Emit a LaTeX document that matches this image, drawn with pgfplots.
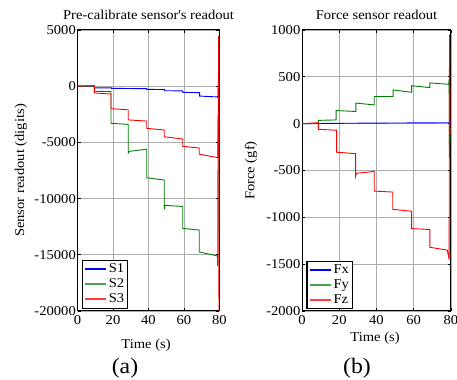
\documentclass[border=0pt]{standalone}
\usepackage{pgfplots}
\pgfplotsset{compat=1.18}
\usepackage{fontspec}
\setmainfont[FakeStretch=1.08]{Liberation Serif}
\definecolor{pblue}{RGB}{0,0,255}
\definecolor{pgreen}{RGB}{0,128,0}
\definecolor{pred}{RGB}{255,0,0}
\definecolor{lgreen}{RGB}{70,165,70}
\definecolor{lred}{RGB}{255,60,60}
\pgfplotsset{
  myax/.style={
    scale only axis,
    height=281bp,
    xmin=0, xmax=80,
    xtick={0,20,40,60,80},
    grid=major,
    grid style={gray!65, line width=0.7bp},
    axis line style={line width=1bp},
    tick align=inside,
    major tick length=3bp,
    tick style={black, line width=0.8bp},
    ticklabel style={font=\fontsize{13.5bp}{15bp}\selectfont},
    yticklabel style={inner xsep=1.5bp},
    xticklabel style={inner ysep=4bp},
    scaled y ticks=false,
    /pgf/number format/.cd, 1000 sep={}, assume math mode=true,
    /pgfplots/.cd,
    legend style={font=\fontsize{13.5bp}{15bp}\selectfont, draw=black, very thick,
      inner sep=1.5bp, row sep=0bp, legend cell align=left},
    every axis plot/.append style={line width=0.9bp},
  },
  limg/.style={legend image code/.code={\draw[#1, line width=2bp] (0bp,0bp) -- (21bp,0bp);}},
}
\begin{document}
\fontsize{13.5bp}{16bp}\selectfont
\begin{tikzpicture}
\path[use as bounding box] (0bp,0bp) rectangle (457bp,380bp);
% ---------- (a) ----------
\begin{axis}[myax, at={(77.5bp,69bp)}, anchor=south west, width=142bp,
  ymin=-20000, ymax=5000, ytick={-20000,-15000,-10000,-5000,0,5000},
  legend style={at={(rel axis cs:0.03,0.008)}, anchor=south west}]
\addlegendimage{limg=pblue}
\addlegendentry{S1}
\addlegendimage{limg=lgreen}
\addlegendentry{S2}
\addlegendimage{limg=lred}
\addlegendentry{S3}
\addplot[pblue, forget plot] coordinates {
(0,0) (9.5,0) (9.5,-150) (19.2,-150) (19.2,-190) (39,-220) (39,-280) (49,-300)
(49,-400) (59.3,-420) (59.3,-550) (68.8,-570) (68.8,-880) (78.5,-950) (79.1,-1000)
(79.3,0) (80,0)};
\addplot[pgreen, forget plot] coordinates {
(0,0) (9.5,0) (9.5,-450) (18.9,-480) (18.9,-3300) (28.6,-3400) (28.6,-5950)
(29.2,-5800) (39,-5600) (39,-8150) (48.9,-8350) (48.9,-10950) (49.3,-10600)
(59.3,-10700) (59.3,-12650) (68.6,-12800) (68.6,-14750) (78.8,-15100) (79,-16000)
(79.2,-2600) (79.6,-2600)};
\addplot[pred, forget plot] coordinates {
(0,0) (9.5,50) (9.5,-600) (18.9,-700) (18.9,-2000) (28.6,-2100) (28.6,-3000)
(39,-3100) (39,-3750) (48.9,-3900) (48.9,-4500) (59.3,-4700) (59.3,-5350)
(68.6,-5500) (68.6,-6050) (79,-6350) (79.3,-2700) (79.5,4500) (79.7,-20000)
(80,-20000)};
\end{axis}
% ---------- (b) ----------
\begin{axis}[myax, at={(302bp,69bp)}, anchor=south west, width=149bp,
  ymin=-2000, ymax=1000, ytick={-2000,-1500,-1000,-500,0,500,1000},
  legend style={at={(rel axis cs:0.03,0.006)}, anchor=south west}]
\addlegendimage{limg=pblue}
\addlegendentry{Fx}
\addlegendimage{limg=lgreen}
\addlegendentry{Fy}
\addlegendimage{limg=lred}
\addlegendentry{Fz}
\addplot[pblue, forget plot] coordinates {
(0,0) (9,2) (30,5) (60,8) (80,10)};
\addplot[pgreen, forget plot] coordinates {
(0,0) (8.8,0) (8.8,35) (18.3,40) (18.3,140) (28.9,130) (28.9,220) (38.8,200)
(38.8,290) (48.9,290) (48.9,360) (58.9,335) (58.9,405) (68.7,385) (68.7,435)
(78.8,420) (79,470) (79.2,-350) (79.5,-50) (80,-50)};
\addplot[pred, forget plot] coordinates {
(0,0) (8.8,10) (8.8,-60) (18.6,-70) (18.6,-305) (28.8,-320) (28.8,-560)
(29.2,-530) (38.8,-510) (38.8,-720) (48.7,-730) (48.7,-915) (58.9,-935)
(58.9,-1120) (68.7,-1130) (68.7,-1320) (78,-1350) (79,-1450) (79.2,950)
(79.5,-100) (80,-100)};
\end{axis}
% ---------- texts ----------
\node[anchor=base] at (148.5bp,360.5bp) {Pre-calibrate sensor\textquotesingle s readout};
\node[anchor=base] at (376.5bp,360.5bp) {Force sensor readout};
\node[anchor=base] at (146bp,32bp) {Time (s)};
\node[anchor=base] at (375bp,39bp) {Time (s)};
\node[rotate=90, anchor=center] at (21bp,209.5bp) {Sensor readout (digits)};
\node[rotate=90, anchor=center] at (251bp,209.5bp) {Force (gf)};
\node[anchor=base, font=\fontsize{22bp}{24bp}\selectfont] at (125bp,6.5bp) {(a)};
\node[anchor=base, font=\fontsize{22bp}{24bp}\selectfont] at (357bp,6.5bp) {(b)};
\end{tikzpicture}
\end{document}
